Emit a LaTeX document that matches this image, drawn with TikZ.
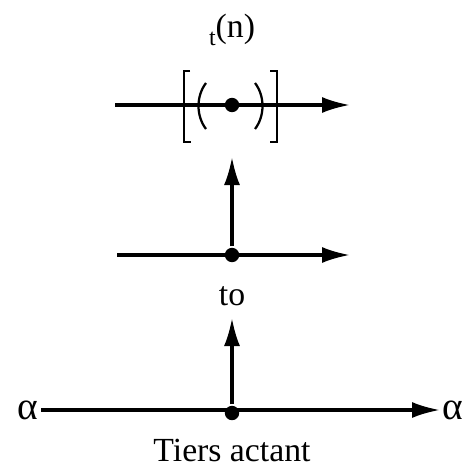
\documentclass[tikz,border=0pt]{standalone}
\usepackage{fontspec}
\setmainfont{Liberation Serif}
\usetikzlibrary{arrows.meta, positioning}

\begin{document}
\begin{tikzpicture}[
    x=0.25mm, y=-0.25mm,
    line width=2.2pt,
    dot/.style={circle, fill, inner sep=0pt, minimum size=3.6mm},
    arrow/.style={-{Latex[length=7mm, width=4mm]}},
    brack/.style={line width=1.6pt},
    lbl/.style={font=\fontsize{24}{26}\selectfont, inner sep=1pt}
]
\useasboundingbox (0,0) rectangle (462,471);

% upper level, bracketed
\node[dot] (top) at (232,105) {};
\coordinate (topL) at (115,105);
\coordinate (topR) at (350,105);
\coordinate (topB) at (232,157);
\node[lbl] (tn) at (232,30) {{\fontsize{17}{18}\selectfont t}\raisebox{.5ex}{(n)}};
\draw[brack] (190,71) -| (184,142) -- (191,142);
\draw[brack] (270,71) -| (277,142) -- (270,142);
\draw[brack] (206,83) .. controls (196,96) and (196,116) .. (206,129);
\draw[brack] (255,83) .. controls (265,96) and (265,116) .. (255,129);

% middle level
\node[dot] (mid) at (232,255) {};
\coordinate (midL) at (117,255);
\coordinate (midR) at (350,255);
\node[lbl] (to) at (232,296) {to};
\coordinate (toB) at (232,318);

% lower level
\node[dot] (low) at (232,413) {};
\node[lbl, font=\fontsize{28}{30}\selectfont] (aL) at (28,410) {α};
\node[lbl, anchor=west, font=\fontsize{28}{30}\selectfont] (aR) at (440,410) {α};
\node[lbl] (tiers) at (232,450) {Tiers actant};

\draw[arrow] (topL) -- (topR);
\draw[arrow] (mid) -- (topB);
\draw[arrow] (midL) -- (midR);
\draw[arrow] (low) -- (toB);
\draw[arrow] (aL) -- (aR);
\end{tikzpicture}
\end{document}
